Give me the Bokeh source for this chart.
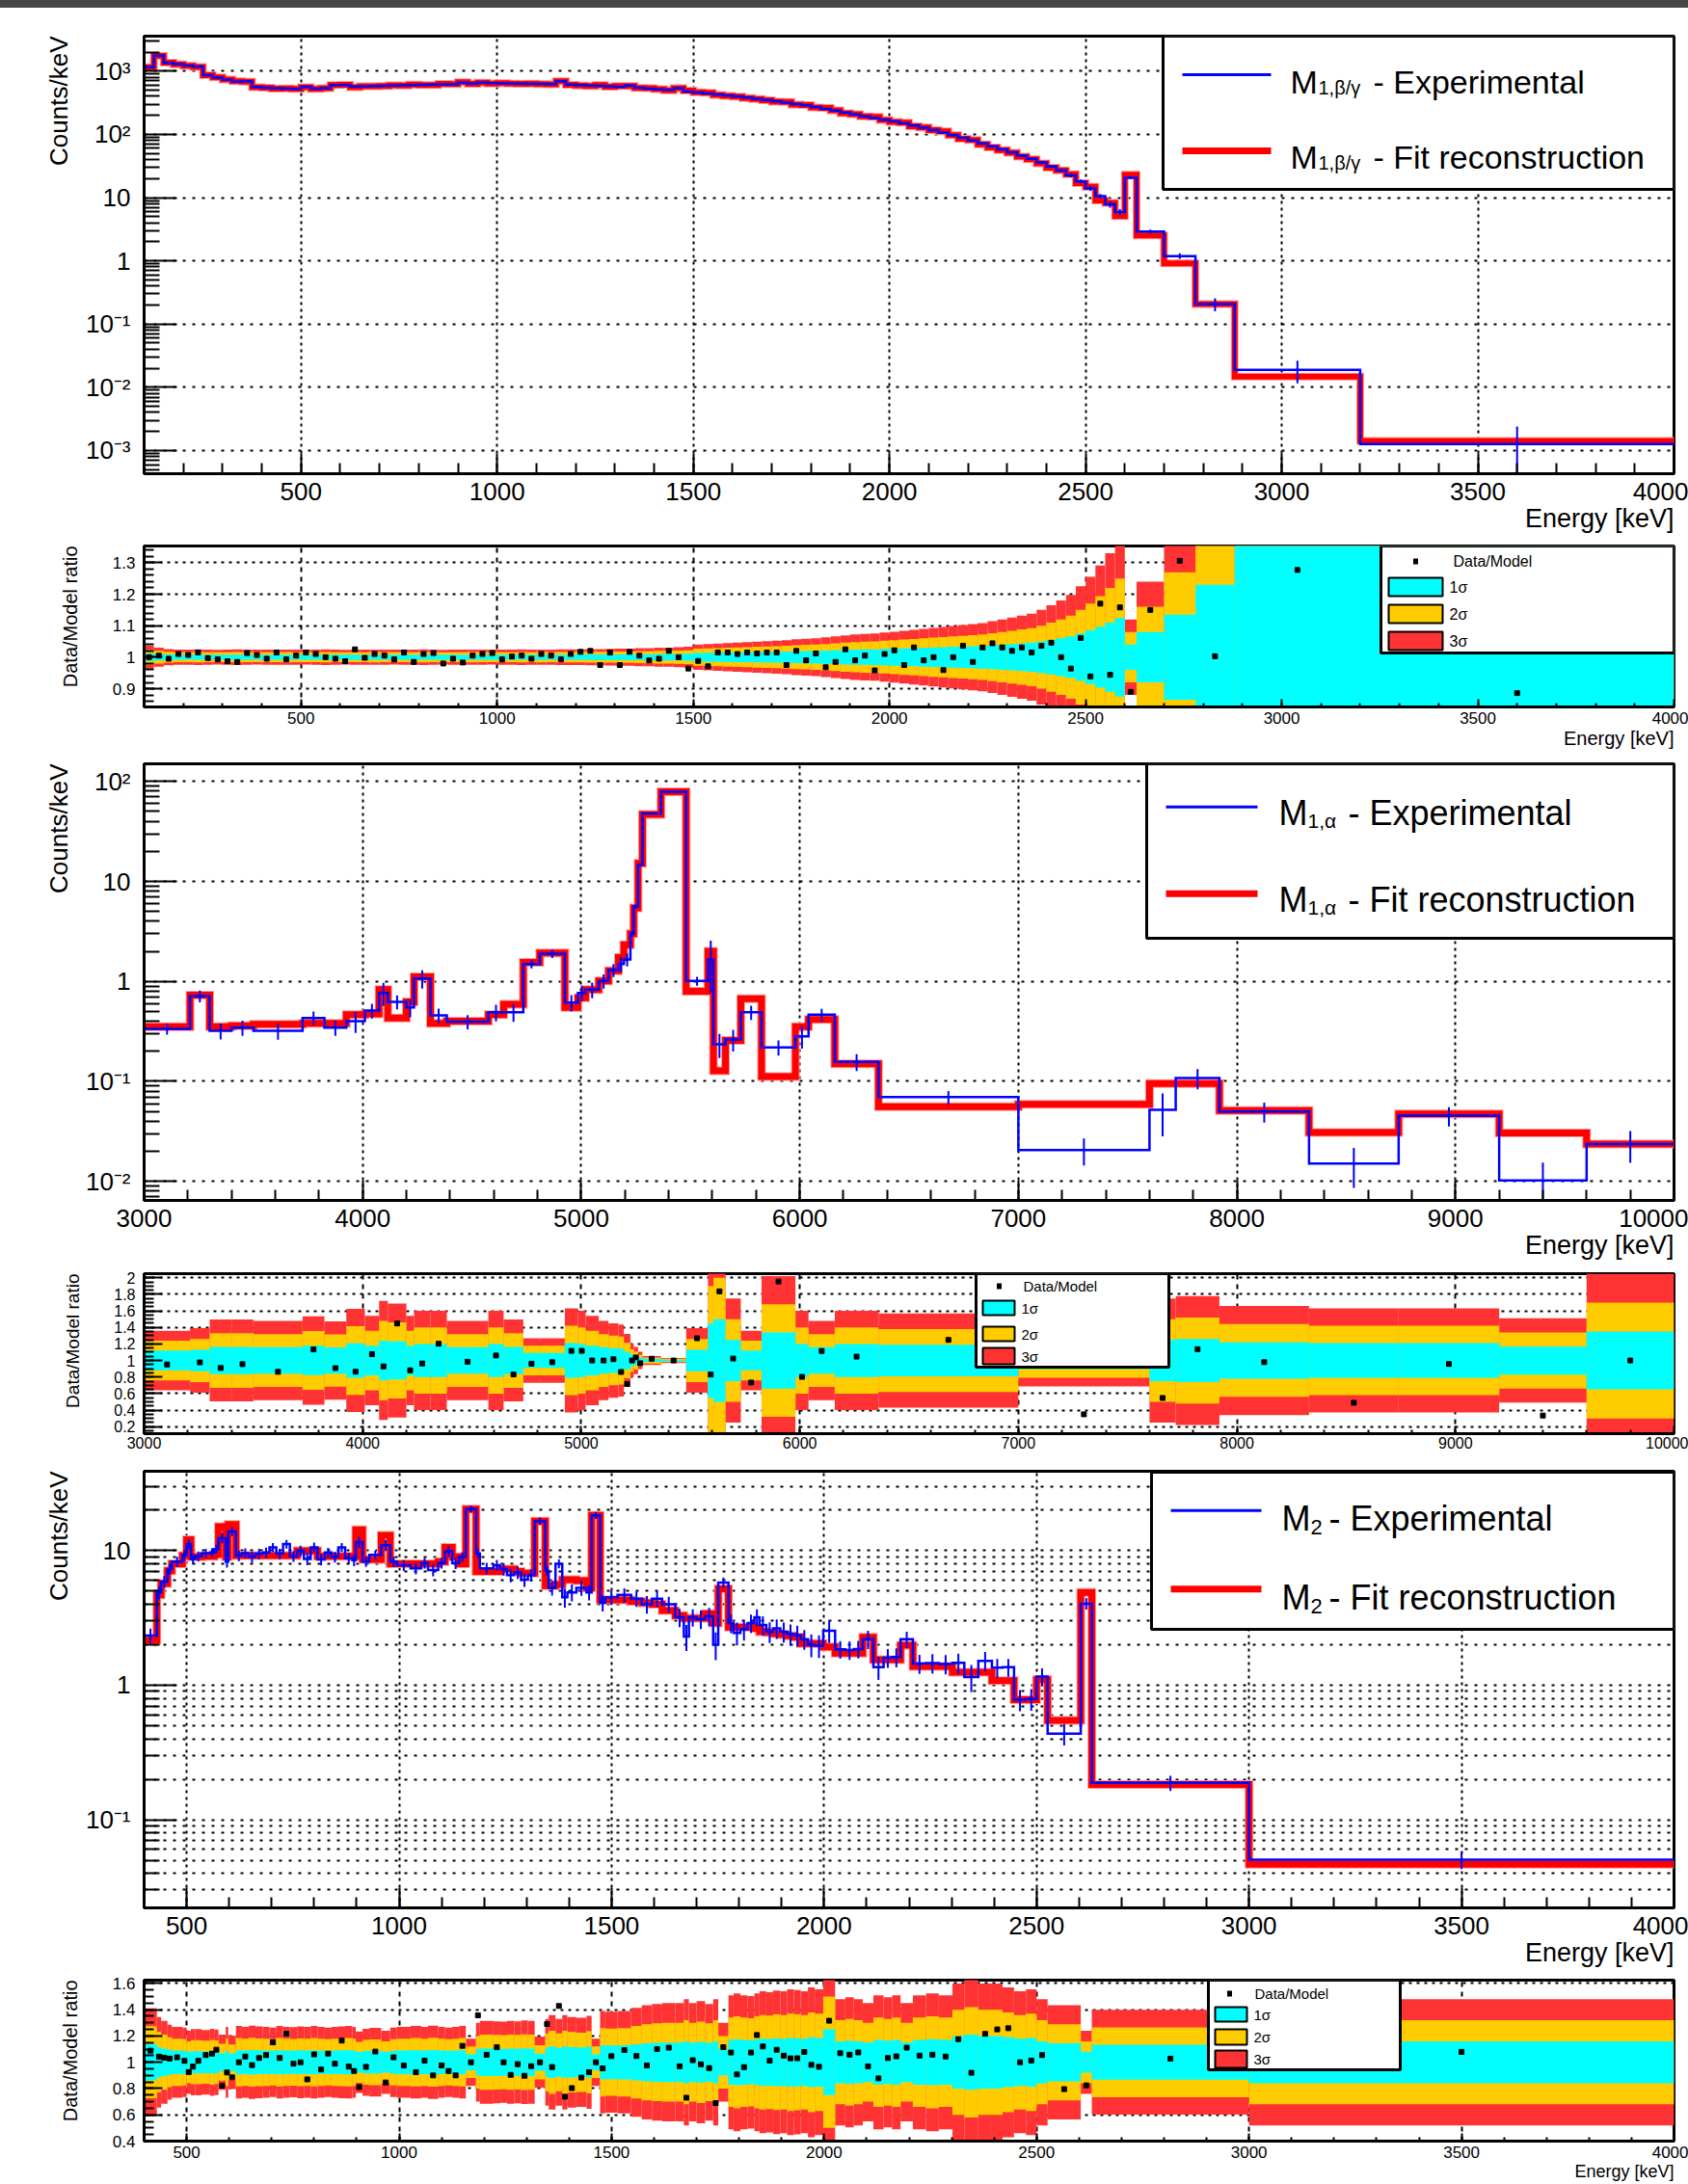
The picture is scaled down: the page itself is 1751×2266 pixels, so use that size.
import math
from bokeh.plotting import figure
from bokeh.models import (Range1d, FixedTicker, SingleIntervalTicker, CustomJSTickFormatter,
                          Label, BoxAnnotation, Div, Title)
from bokeh.layouts import column
from bokeh.embed import file_html
from bokeh.resources import INLINE

FONT = "Liberation Sans"
W = 1751
BLUE = "#0000ff"
RED = "#ff0000"
C1, C2, C3 = "#00ffff", "#ffcc00", "#ff3333"

# ---------------- M1 beta/gamma spectrum (counts/keV) ----------------
m1bg_edges = list(range(100, 2601, 25)) + [2630, 2700, 2780, 2880, 3200, 4000]
m1bg_exp = [1150, 1750, 1350, 1290, 1220, 1180, 860, 790, 730, 680,
            690, 560, 545, 535, 528, 525, 565, 530, 538, 600,
            600, 570, 575, 580, 586, 592, 598, 604, 608, 612,
            616, 620, 660, 632, 665, 645, 640, 637, 634, 630,
            627, 623, 690, 615, 600, 593, 585, 577, 568, 592,
            545, 530, 515, 505, 535, 475, 458, 443, 428, 413,
            398, 382, 366, 350, 334, 318, 302, 287, 270, 253,
            237, 221, 206, 193, 181, 170, 160, 149, 138, 127,
            117, 107, 97, 88, 80, 72, 65, 58, 52, 46,
            41, 36, 31, 27, 22.5, 18, 14, 10.5, 7.8, 5.9,
            20.5, 2.9, 1.19, 0.207, 0.0189, 0.00126]
# Data/Model ratio points
m1bg_ratio = [1.000, 1.005, 0.995, 1.010, 1.007, 1.015, 0.997, 0.993, 0.987, 0.985,
              1.013, 1.007, 0.995, 1.015, 0.993, 1.005, 1.015, 1.010, 1.000, 0.995,
              0.987, 1.025, 0.998, 1.010, 1.005, 0.993, 1.015, 0.985, 1.010, 1.013,
              0.980, 0.995, 0.983, 1.005, 1.010, 1.013, 0.993, 1.002, 1.005, 0.995,
              1.010, 1.005, 0.993, 1.010, 1.017, 1.020, 0.975, 1.015, 0.975, 1.017,
              1.005, 0.990, 0.995, 1.020, 1.000, 0.964, 0.988, 0.971, 1.015, 1.015,
              1.010, 1.015, 1.012, 1.015, 1.015, 0.975, 1.020, 0.990, 1.012, 0.968,
              0.985, 1.025, 0.990, 1.005, 0.958, 1.010, 1.022, 0.975, 1.031, 0.990,
              1.000, 0.959, 1.000, 1.036, 0.985, 1.031, 1.044, 1.031, 1.020, 1.031,
              1.015, 1.036, 1.046, 1.000, 0.964, 1.061, 0.939, 1.170, 0.944, 1.158,
              0.89, 1.15, 1.306, 1.003, 1.277, 0.886]
# relative 1-sigma band half-width
m1bg_sigma = [0.012, 0.010, 0.0085, 0.008, 0.008, 0.0082, 0.008, 0.0078, 0.008, 0.0082,
              0.008, 0.0079, 0.008, 0.008, 0.0081, 0.008, 0.0079, 0.008, 0.0082, 0.008,
              0.0078, 0.008, 0.008, 0.0081, 0.008, 0.0079, 0.008, 0.008, 0.0082, 0.008,
              0.0078, 0.008, 0.008, 0.0081, 0.008, 0.0079, 0.008, 0.008, 0.0082, 0.008,
              0.0081, 0.008, 0.0082, 0.0083, 0.0084, 0.0085, 0.0086, 0.0088, 0.009, 0.009,
              0.0095, 0.0095, 0.010, 0.010, 0.0105, 0.011, 0.0135, 0.014, 0.0145, 0.015,
              0.0155, 0.016, 0.0165, 0.017, 0.0175, 0.018, 0.019, 0.0195, 0.020, 0.021,
              0.022, 0.023, 0.024, 0.0245, 0.025, 0.026, 0.027, 0.028, 0.029, 0.030,
              0.031, 0.032, 0.033, 0.034, 0.035, 0.036, 0.038, 0.040, 0.042, 0.044,
              0.046, 0.050, 0.055, 0.060, 0.066, 0.075, 0.085, 0.097, 0.11, 0.125,
              0.04, 0.08, 0.135, 0.23, 0.5, 0.8]

# ---------------- M1 alpha spectrum ----------------
m1a_edges = [3000, 3210, 3300, 3400, 3500, 3725, 3825, 3925, 4010, 4075,
             4115, 4200, 4235, 4310, 4385, 4575, 4645, 4735, 4810, 4925,
             4985, 5020, 5080, 5125, 5170, 5195, 5225, 5240, 5260, 5280,
             5365, 5480, 5580, 5605, 5660, 5730, 5825, 5980, 6040, 6160,
             6360, 7000, 7600, 7720, 7920, 8330, 8740, 9200, 9600, 10000]
m1a_exp = [0.336, 0.713, 0.321, 0.345, 0.321, 0.431, 0.345, 0.401, 0.510, 0.767,
           0.624, 0.550, 1.07, 0.457, 0.395, 0.492, 0.492, 1.49, 1.89, 0.614,
           0.767, 0.826, 1.01, 1.30, 1.49, 1.66, 3.0, 5.62, 14.7, 47.8,
           78.9, 1.01, 1.66, 0.235, 0.263, 0.492, 0.219, 0.283, 0.464, 0.157,
           0.0697, 0.0206, 0.0519, 0.108, 0.050, 0.0151, 0.0454, 0.0102, 0.0236]
m1a_fit = [0.353, 0.73, 0.353, 0.361, 0.372, 0.380, 0.380, 0.464, 0.474, 0.826,
           0.431, 0.624, 1.11, 0.380, 0.401, 0.464, 0.592, 1.55, 1.93, 0.550,
           0.687, 0.826, 1.01, 1.28, 1.73, 2.32, 3.0, 5.42, 15.2, 46.8,
           78.9, 0.796, 2.0, 0.128, 0.257, 0.671, 0.112, 0.353, 0.416, 0.15,
           0.0558, 0.059, 0.095, 0.095, 0.051, 0.0309, 0.0474, 0.0305, 0.0236]
m1a_sigma = [0.12, 0.13, 0.165, 0.165, 0.16, 0.178, 0.158, 0.208, 0.18, 0.24,
             0.23, 0.18, 0.2, 0.2, 0.16, 0.2, 0.165, 0.09, 0.09, 0.21,
             0.2, 0.18, 0.16, 0.15, 0.145, 0.107, 0.068, 0.055, 0.035, 0.018,
             0.01, 0.13, 0.45, 0.5, 0.25, 0.12, 0.34, 0.2, 0.16, 0.2,
             0.19, 0.105, 0.25, 0.26, 0.22, 0.21, 0.21, 0.17, 0.35]

# ---------------- M2 spectrum ----------------
m2_edges = [400, 430, 440, 455, 465, 490, 500, 510, 520, 535,
            555, 565, 575, 592, 598, 616, 630, 646, 662, 679,
            695, 711, 727, 743, 760, 776, 792, 808, 825, 841,
            857, 873, 890, 898, 914, 930, 958, 979, 995, 1027,
            1052, 1068, 1092, 1108, 1125, 1141, 1157, 1181, 1190, 1222,
            1238, 1254, 1271, 1287, 1303, 1319, 1344, 1352, 1368, 1384,
            1396, 1417, 1441, 1453, 1473, 1485, 1514, 1546, 1571, 1595,
            1619, 1650, 1670, 1682, 1700, 1720, 1739, 1751, 1775, 1787,
            1803, 1820, 1836, 1848, 1864, 1880, 1897, 1913, 1929, 1945,
            1962, 1978, 1998, 2026, 2050, 2070, 2091, 2116, 2140, 2160,
            2180, 2209, 2240, 2270, 2302, 2330, 2363, 2395, 2420, 2447,
            2475, 2500, 2526, 2604, 2630, 3000, 4000]
m2_exp = [2.34, 4.9, 5.9, 7.3, 8.3, 9.3, 11.2, 8.7, 9.1, 9.6,
          9.7, 10.3, 12.4, 8.3, 13.9, 9.2, 9.6, 9.0, 9.5, 9.7,
          10.6, 9.5, 11.2, 9.1, 10.0, 8.7, 10.6, 8.6, 9.7, 9.0,
          10.6, 8.8, 8.5, 11.6, 8.3, 9.3, 11.0, 8.3, 7.8, 7.4,
          8.1, 7.2, 8.1, 9.9, 8.1, 9.0, 20.4, 9.5, 7.4, 7.8,
          7.3, 6.6, 6.9, 6.1, 6.6, 16.6, 7.1, 5.3, 8.0, 4.5,
          4.9, 5.3, 4.9, 18.3, 4.1, 4.5, 4.7, 4.4, 4.0, 4.4,
          4.0, 3.2, 2.3, 3.2, 3.1, 3.25, 2.0, 5.8, 2.9, 2.45,
          2.6, 2.9, 3.2, 2.8, 2.5, 2.65, 2.5, 2.4, 2.35, 2.2,
          2.0, 1.97, 2.54, 1.85, 1.83, 1.86, 2.2, 1.36, 1.6, 1.62,
          2.2, 1.45, 1.46, 1.44, 1.47, 1.15, 1.52, 1.35, 1.36, 0.78,
          0.79, 1.16, 0.436, 4.04, 0.188, 0.0504]
m2_fit = [2.15, 4.7, 5.7, 7.1, 8.0, 9.2, 12.1, 9.0, 9.0, 9.1,
          9.1, 9.4, 15.1, 9.0, 15.7, 9.2, 9.2, 9.2, 9.2, 9.2,
          9.2, 9.2, 9.2, 9.2, 10.0, 10.0, 10.0, 9.1, 9.1, 9.1,
          9.1, 9.1, 9.1, 14.3, 8.6, 8.6, 13.0, 8.0, 8.0, 8.0,
          8.0, 8.0, 8.3, 10.6, 9.0, 8.0, 20.4, 7.0, 7.0, 7.0,
          7.3, 7.3, 7.0, 6.8, 6.8, 16.6, 5.5, 5.5, 5.6, 6.1,
          6.1, 6.0, 5.3, 18.3, 4.3, 4.3, 4.3, 4.2, 4.1, 4.0,
          3.6, 3.3, 3.15, 3.15, 3.15, 3.4, 2.9, 5.2, 2.7, 2.7,
          2.7, 2.7, 2.65, 2.5, 2.47, 2.42, 2.38, 2.33, 2.28, 2.04,
          2.04, 2.04, 1.93, 1.73, 1.73, 1.73, 2.27, 1.55, 1.55, 1.55,
          1.98, 1.38, 1.38, 1.38, 1.25, 1.25, 1.25, 1.08, 1.08, 0.78,
          0.78, 1.1, 0.548, 4.9, 0.183, 0.0467]
m2_sigma = [0.137, 0.115, 0.105, 0.095, 0.09, 0.088, 0.08, 0.084, 0.084, 0.082,
            0.085, 0.083, 0.07, 0.09, 0.068, 0.092, 0.09, 0.093, 0.091, 0.09,
            0.088, 0.092, 0.09, 0.089, 0.091, 0.09, 0.092, 0.09, 0.088, 0.09,
            0.091, 0.092, 0.09, 0.078, 0.085, 0.087, 0.08, 0.088, 0.09, 0.092,
            0.09, 0.093, 0.09, 0.088, 0.09, 0.092, 0.06, 0.1, 0.105, 0.104,
            0.103, 0.105, 0.104, 0.106, 0.105, 0.065, 0.11, 0.12, 0.11, 0.12,
            0.115, 0.113, 0.118, 0.06, 0.13, 0.128, 0.13, 0.138, 0.145, 0.148,
            0.15, 0.15, 0.16, 0.15, 0.155, 0.148, 0.16, 0.1, 0.17, 0.175,
            0.17, 0.168, 0.175, 0.18, 0.178, 0.182, 0.18, 0.185, 0.183, 0.18,
            0.19, 0.185, 0.25, 0.16, 0.165, 0.16, 0.15, 0.17, 0.165, 0.17,
            0.15, 0.17, 0.175, 0.17, 0.2, 0.21, 0.2, 0.2, 0.19, 0.18,
            0.185, 0.16, 0.145, 0.08, 0.133, 0.16]


# ---------------- helpers ----------------
def nbins(edges, *lists):
    return min([len(edges) - 1] + [len(l) for l in lists])


def step_path(edges, vals):
    xs, ys = [], []
    for i in range(nbins(edges, vals)):
        xs.extend([edges[i], edges[i + 1]])
        ys.extend([vals[i], vals[i]])
    return xs, ys


def centers(edges):
    return [(edges[i] + edges[i + 1]) / 2.0 for i in range(len(edges) - 1)]


LOG_JS = """
const e = Math.round(Math.log10(tick));
if (e == 0) return "1";
if (e == 1) return "10";
const sup = {"-": "\\u207b", "0": "\\u2070", "1": "\\u00b9", "2": "\\u00b2", "3": "\\u00b3",
             "4": "\\u2074", "5": "\\u2075", "6": "\\u2076", "7": "\\u2077", "8": "\\u2078", "9": "\\u2079"};
return "10" + String(e).split("").map(c => sup[c]).join("");
"""
RATIO_JS = "return (Math.round(tick * 10) / 10).toString();"


def make_fig(height, top, bottom, xr, yr, ylog):
    p = figure(width=W, height=height, x_range=Range1d(*xr), y_range=Range1d(*yr),
               y_axis_type="log" if ylog else "linear", output_backend="svg",
               toolbar_location=None, min_border_left=149, min_border_right=15,
               min_border_top=top, min_border_bottom=bottom)
    p.background_fill_color = "white"
    p.border_fill_color = "white"
    p.outline_line_color = "black"
    p.outline_line_width = 3
    p.outline_line_alpha = 1.0
    return p


def style_axes(p, xticker, yticker, yfmt, font_px, xs_off, ys_off,
               xmaj, xmin, ymaj, ymin, xdash, ydash, yminor_grid=False):
    p.xaxis[0].ticker = xticker
    p.xgrid[0].ticker = xticker
    p.yaxis[0].ticker = yticker
    p.ygrid[0].ticker = yticker
    p.yaxis[0].formatter = yfmt
    for ax in (p.xaxis[0], p.yaxis[0]):
        ax.axis_line_color = "black"
        ax.axis_line_width = 3
        ax.major_tick_out = 0
        ax.minor_tick_out = 0
        ax.major_tick_line_color = "black"
        ax.minor_tick_line_color = "black"
        ax.major_tick_line_width = 2
        ax.minor_tick_line_width = 2
        ax.major_label_text_font = FONT
        ax.major_label_text_font_size = f"{font_px}px"
        ax.major_label_text_color = "black"
    p.xaxis[0].major_tick_in = xmaj
    p.xaxis[0].minor_tick_in = xmin
    p.yaxis[0].major_tick_in = ymaj
    p.yaxis[0].minor_tick_in = ymin
    p.xaxis[0].major_label_standoff = xs_off
    p.yaxis[0].major_label_standoff = ys_off
    p.xgrid[0].grid_line_color = "black"
    p.xgrid[0].grid_line_width = 2
    p.xgrid[0].grid_line_dash = xdash
    p.ygrid[0].grid_line_color = "black"
    p.ygrid[0].grid_line_width = 2
    p.ygrid[0].grid_line_dash = ydash
    if yminor_grid:
        p.ygrid[0].minor_grid_line_color = "black"
        p.ygrid[0].minor_grid_line_width = 2
        p.ygrid[0].minor_grid_line_dash = ydash


def axis_titles(p, xlabel, xsize, ylabel, ysize, ystand):
    if xlabel:
        p.add_layout(Title(text=xlabel, align="right", vertical_align="middle",
                           text_font=FONT, text_font_size=f"{xsize}px",
                           text_font_style="normal", text_color="black", standoff=0), "below")
    p.add_layout(Title(text=ylabel, align="right", vertical_align="middle",
                       text_font=FONT, text_font_size=f"{ysize}px",
                       text_font_style="normal", text_color="black", standoff=ystand), "left")


def lab(p, x, y, text, size, align="left", baseline="alphabetic"):
    p.add_layout(Label(x=x, y=y, x_units="canvas", y_units="canvas", text=text,
                       text_font=FONT, text_font_size=f"{size}px", text_color="black",
                       text_align=align, text_baseline=baseline))


def cbox(p, l, r, t, b, fill="white", line="black", lw=2):
    p.add_layout(BoxAnnotation(left=l, right=r, top=t, bottom=b,
                               left_units="canvas", right_units="canvas",
                               top_units="canvas", bottom_units="canvas",
                               fill_color=fill, fill_alpha=1.0,
                               line_color=line, line_width=lw, line_alpha=1.0))


def draw_spectrum(p, edges, exp, fit, sigma, red_w):
    fx, fy = step_path(edges, fit)
    p.line(fx, fy, line_color="#ff9c9c", line_width=red_w + 2, line_join="miter")
    p.line(fx, fy, line_color=RED, line_width=red_w, line_join="miter")
    ex, ey = step_path(edges, exp)
    p.line(ex, ey, line_color=BLUE, line_width=2.5, line_join="miter")
    n = nbins(edges, exp, fit, sigma)
    c = centers(edges)[:n]
    lo = [max(exp[i] - sigma[i] * fit[i], 1e-6) for i in range(n)]
    hi = [exp[i] + sigma[i] * fit[i] for i in range(n)]
    p.segment(x0=c, y0=lo, x1=c, y1=hi, line_color=BLUE, line_width=2)


def draw_ratio(p, edges, ratio, sigma):
    n = nbins(edges, ratio, sigma)
    L, R = edges[:n], edges[1:n + 1]
    for k, col in ((3, C3), (2, C2), (1, C1)):
        p.quad(left=L, right=R, bottom=[1 - k * s for s in sigma[:n]],
               top=[1 + k * s for s in sigma[:n]], fill_color=col, line_color=None)
    p.scatter(x=centers(edges)[:n], y=ratio[:n], marker="square", size=5,
              fill_color="black", line_color="black")


def main_legend(p, box, lx, rows, mx, sub_x, rest_x, fsize, ssize, sub_txt):
    cbox(p, *box, lw=3)
    for (ly, base, sbase, col, lw, rest) in rows:
        cbox(p, lx[0], lx[1], ly - lw / 2.0, ly + lw / 2.0, fill=col, line=None, lw=0)
        lab(p, mx, base, "M", fsize)
        lab(p, sub_x, sbase, sub_txt, ssize)
        lab(p, rest_x, base, rest, fsize)


def ratio_legend(p, box, mk, tx, bx, rows, fsize):
    cbox(p, *box, lw=3)
    cbox(p, mk[0] - 2.5, mk[0] + 2.5, mk[1] - 3, mk[1] + 3, fill="black", line=None, lw=0)
    lab(p, tx, mk[1], "Data/Model", fsize, baseline="middle")
    for (t, b, col, txt) in rows:
        cbox(p, bx[0], bx[1], t, b, fill=col, line="black", lw=2)
        lab(p, bx[1] + 7, (t + b) / 2.0, txt, fsize, baseline="middle")


log_minor = lambda lo, hi: [k * 10.0 ** e for e in range(lo, hi) for k in range(2, 10)]

# ================= Panel 1 : M1 beta/gamma  (page y 8..563) =================
p1 = make_fig(555, 29, 72, (100, 4000), (4.3e-4, 3573), True)
style_axes(p1, SingleIntervalTicker(interval=500, num_minor_ticks=5),
           FixedTicker(ticks=[1e-3, 1e-2, 1e-1, 1, 10, 100, 1000], minor_ticks=log_minor(-4, 4)),
           CustomJSTickFormatter(code=LOG_JS), 26, 9, 14, 21, 11, 34, 16, "3 4", "3 7")
axis_titles(p1, "Energy [keV]", 27, "Counts/keV", 26, 18)
m1bg_fit = [m1bg_exp[i] / m1bg_ratio[i] for i in range(nbins(m1bg_edges, m1bg_exp, m1bg_ratio))]
draw_spectrum(p1, m1bg_edges, m1bg_exp, m1bg_fit, m1bg_sigma, 6)
main_legend(p1, (1206, 1736, 29, 188), (1226, 1318),
            [(69, 76, 82, BLUE, 3, "- Experimental"), (148, 154.5, 160.5, RED, 7, "- Fit reconstruction")],
            1338, 1367, 1424, 34, 20, "1,\u03b2/\u03b3")

# ================= Panel 2 : ratio M1 beta/gamma  (page y 563..783) =================
p2 = make_fig(220, 3, 50, (100, 4000), (0.842, 1.353), False)
style_axes(p2, SingleIntervalTicker(interval=500, num_minor_ticks=5),
           SingleIntervalTicker(interval=0.1, num_minor_ticks=5),
           CustomJSTickFormatter(code=RATIO_JS), 17, 5, 9, 8, 4, 19, 10, "5 5", "3 5")
axis_titles(p2, "Energy [keV]", 20, "Data/Model ratio", 20, 57)
draw_ratio(p2, m1bg_edges, m1bg_ratio, m1bg_sigma)
ratio_legend(p2, (1432, 1736, 3, 114), (1468, 19), 1507, (1440, 1496),
             [(36, 55, C1, "1\u03c3"), (64, 83, C2, "2\u03c3"), (92, 111, C3, "3\u03c3")], 16)

# ================= Panel 3 : M1 alpha  (page y 783..1313) =================
p3 = make_fig(530, 9, 68, (3000, 10000), (0.00645, 150), True)
style_axes(p3, SingleIntervalTicker(interval=1000, num_minor_ticks=5),
           FixedTicker(ticks=[1e-2, 1e-1, 1, 10, 100], minor_ticks=log_minor(-3, 3)),
           CustomJSTickFormatter(code=LOG_JS), 26, 9, 14, 21, 11, 34, 16, "3 4", "3 7")
axis_titles(p3, "Energy [keV]", 27, "Counts/keV", 26, 18)
draw_spectrum(p3, m1a_edges, m1a_exp, m1a_fit, m1a_sigma, 7)
main_legend(p3, (1189, 1736, 9, 190), (1209, 1304),
            [(53.7, 60.3, 68, BLUE, 3, "- Experimental"), (143.7, 150.3, 158, RED, 7, "- Fit reconstruction")],
            1326, 1356, 1398, 36, 21, "1,\u03b1")

# ================= Panel 4 : ratio M1 alpha  (page y 1313..1510) =================
p4 = make_fig(197, 8, 23, (3000, 10000), (0.115, 2.05), False)
style_axes(p4, SingleIntervalTicker(interval=1000, num_minor_ticks=5),
           SingleIntervalTicker(interval=0.2, num_minor_ticks=4),
           CustomJSTickFormatter(code=RATIO_JS), 16, 3, 9, 8, 4, 19, 10, "5 5", "3 5")
axis_titles(p4, None, 20, "Data/Model ratio", 19, 58)
m1a_ratio = [m1a_exp[i] / m1a_fit[i] for i in range(nbins(m1a_edges, m1a_exp, m1a_fit))]
draw_ratio(p4, m1a_edges, m1a_ratio, m1a_sigma)
ratio_legend(p4, (1012, 1212, 8, 105), (1036, 21), 1061, (1019, 1052),
             [(36, 51, C1, "1\u03c3"), (63, 78, C2, "2\u03c3"), (85, 102, C3, "3\u03c3")], 15)

# ================= Panel 5 : M2  (page y 1510..2045) =================
p5 = make_fig(535, 16, 66, (400, 4000), (0.0221, 39), True)
style_axes(p5, SingleIntervalTicker(interval=500, num_minor_ticks=5),
           FixedTicker(ticks=[1e-1, 1, 10], minor_ticks=log_minor(-2, 2)),
           CustomJSTickFormatter(code=LOG_JS), 26, 9, 14, 21, 11, 34, 16, "3 4", "3 7",
           yminor_grid=True)
axis_titles(p5, "Energy [keV]", 27, "Counts/keV", 26, 18)
draw_spectrum(p5, m2_edges, m2_exp, m2_fit, m2_sigma, 7)
main_legend(p5, (1194, 1736, 17, 180), (1214, 1308),
            [(56.7, 65, 74, BLUE, 3, "- Experimental"), (138.3, 146.7, 155.7, RED, 7, "- Fit reconstruction")],
            1329, 1359, 1378, 36, 22, "2")

# ================= Panel 6 : ratio M2  (page y 2045..2266) =================
p6 = make_fig(221, 9, 45, (400, 4000), (0.4, 1.625), False)
style_axes(p6, SingleIntervalTicker(interval=500, num_minor_ticks=5),
           SingleIntervalTicker(interval=0.2, num_minor_ticks=4),
           CustomJSTickFormatter(code=RATIO_JS), 17, 5, 9, 8, 4, 19, 10, "5 5", "3 5")
axis_titles(p6, "Energy [keV]", 18, "Data/Model ratio", 20, 57)
m2_ratio = [m2_exp[i] / m2_fit[i] for i in range(nbins(m2_edges, m2_exp, m2_fit))]
draw_ratio(p6, m2_edges, m2_ratio, m2_sigma)
ratio_legend(p6, (1253, 1452, 9, 102), (1275, 23), 1301, (1260, 1293),
             [(37, 52, C1, "1\u03c3"), (60, 76, C2, "2\u03c3"), (82, 100, C3, "3\u03c3")], 15)

topbar = Div(text="", width=W, height=8, margin=0,
             styles={"background-color": "#464646", "overflow": "hidden"})

layout = column(topbar, p1, p2, p3, p4, p5, p6, spacing=0)
open("out.html", "w").write(file_html(layout, INLINE))
